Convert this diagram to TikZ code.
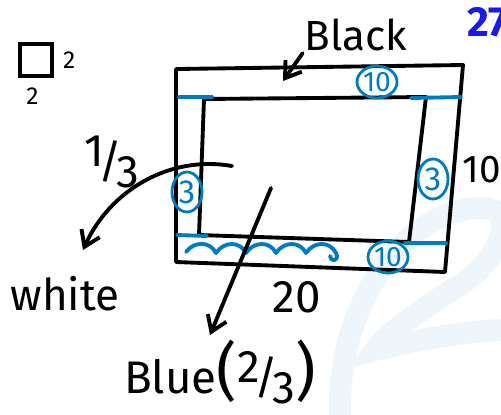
\documentclass[tikz,border=0pt]{standalone}
\usepackage{fontspec}
\setmainfont{Fira Sans}
\usepackage{xcolor}
\usepackage{tikz}
\usetikzlibrary{arrows.meta, positioning, calc, shapes.geometric}
\definecolor{penblue}{RGB}{0, 122, 194}
\definecolor{inkblue}{RGB}{25, 25, 235}
\definecolor{markblue}{RGB}{238, 246, 252}
\newcommand{\slashfrac}[2]{\raisebox{0.45ex}{#1}\kern-0.12em/\kern-0.12em\raisebox{-0.45ex}{#2}}

\begin{document}
\begin{tikzpicture}[
    x=0.02cm, y=-0.02cm,
    ink/.style={line width=2.2pt, black, line cap=round, line join=round},
    pen/.style={line width=2.2pt, penblue, line cap=round, line join=round},
    tag/.style={ellipse, draw=penblue, line width=1.6pt, text=penblue,
                inner sep=0pt, font=\fontsize{16}{16}\selectfont},
    hand/.style={inner sep=1pt, font=\fontsize{24}{24}\selectfont},
    arr/.style={-{Straight Barb[length=3mm, width=4mm]}, ink},
]
\useasboundingbox (0,0) rectangle (501,414);

% Watermark
\draw[markblue, line width=0.44cm, line cap=round]
    (340,420) .. controls (335,300) and (410,205) .. (485,208)
    .. controls (515,210) and (505,255) .. (460,285)
    .. controls (420,310) and (385,335) .. (375,350)
    .. controls (395,345) and (460,330) .. (510,330);

% Small square
\node[draw, line width=2pt, minimum size=0.64cm, inner sep=0pt] (sq) at (36,60) {};
\node[inner sep=0pt, font=\fontsize{14}{14}\selectfont, right=0.18cm of sq] (sqright) {2};
\node[inner sep=0pt, font=\fontsize{14}{14}\selectfont, below=0.2cm of sq, xshift=-2] (sqbelow) {2};

% Page number
\node[hand, anchor=west, text=inkblue, font=\fontsize{24}{24}\selectfont\bfseries] (page) at (465,22) {27};

% Frame
\draw[ink] (176,69) -- (463,65) -- (445,272) -- (176,262) -- cycle;
\draw[ink] (204,99) -- (426,97) -- (409,242) -- (199,235) -- cycle;

% Blue corner marks
\draw[pen] (179,97) -- (212,97);
\draw[pen] (411,98) -- (461,97);
\draw[pen] (177,235) -- (207,236);
\draw[pen] (405,243) -- (446,243);

% Blue shading of the bottom band
\draw[pen] (186,252)
    \foreach \x in {186,216,246,276,306} {
      .. controls (\x+8,241) and (\x+24,241) .. (\x+30,253)
    }
    .. controls (340,262) and (330,262) .. (330,256);

% Circled widths
\node[tag, minimum width=0.8cm, minimum height=0.64cm] (topten) at (377,82) {10};
\node[tag, minimum width=0.8cm, minimum height=0.64cm] (bottomten) at (388,257) {10};
\node[tag, minimum width=0.6cm, minimum height=0.8cm, font=\fontsize{19}{19}\selectfont] (leftthree) at (187,192) {3};
\node[tag, minimum width=0.6cm, minimum height=0.8cm, font=\fontsize{19}{19}\selectfont] (rightthree) at (433,179) {3};

% Sizes
\node[hand, font=\fontsize{26}{26}\selectfont] (width) at (297,297) {20};
\node[hand, font=\fontsize{22}{22}\selectfont] (height) at (482,170) {10};

% Labels
\node[hand] (black) at (356,35) {Black};
\node[hand, font=\fontsize{25}{25}\selectfont] (white) at (65,294) {white};
\node[hand, font=\fontsize{26}{26}\selectfont] (blue) at (220,372)
    {Blue{\fontsize{36}{36}\selectfont(}\slashfrac{2}{3}{\fontsize{36}{36}\selectfont)}};
\node[hand, font=\fontsize{26}{26}\selectfont] (third) at (112,162) {\slashfrac{1}{3}};

% Arrows
\coordinate (blacktip) at (283,81);
\coordinate (whitefrom) at (232,166);
\coordinate (whitetip) at (83,250);
\coordinate (bluefrom) at (271,188);
\coordinate (bluetip) at (210,335);
\draw[arr] (black.south west) -- (blacktip);
\draw[arr] (whitefrom) .. controls (170,155) and (110,190) .. (whitetip);
\draw[arr] (bluefrom) -- (bluetip);

\end{tikzpicture}
\end{document}
